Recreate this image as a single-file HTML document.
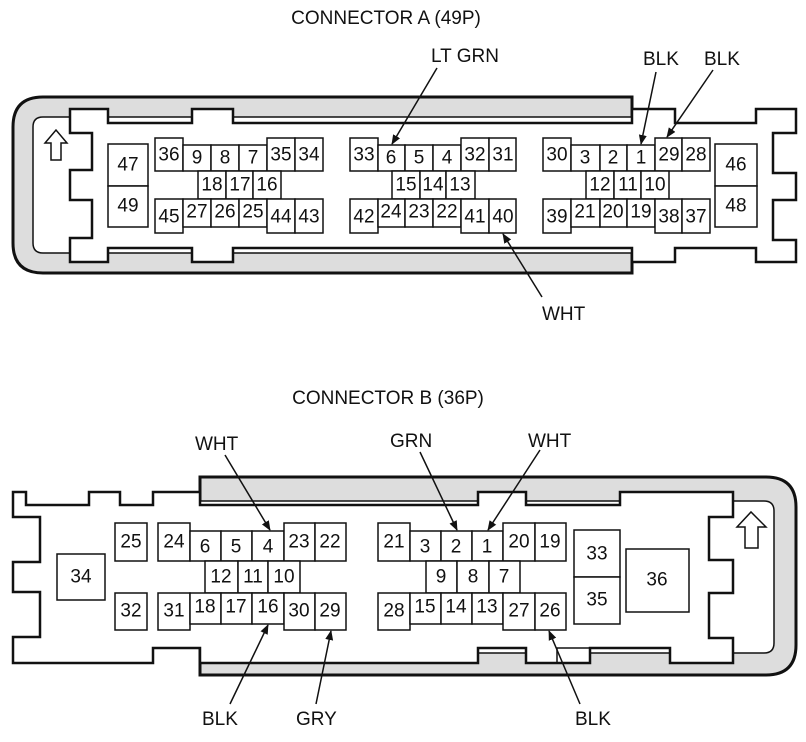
<!DOCTYPE html>
<html><head><meta charset="utf-8"><style>
body{margin:0;background:#fff}
svg{display:block}
text{font-family:"Liberation Sans",sans-serif;fill:#111}
.p text{font-size:19px;text-anchor:middle;dominant-baseline:central}
.p rect{fill:#fff;stroke:#111;stroke-width:1.5}
.l{font-size:19px}
</style></head><body>
<svg width="806" height="742" viewBox="0 0 806 742" xmlns="http://www.w3.org/2000/svg">
<defs><marker id="ah" markerWidth="10" markerHeight="10" refX="9" refY="5" orient="auto" markerUnits="userSpaceOnUse"><path d="M0,1 L10,5 L0,9 z" fill="#111"/></marker></defs>

<!-- CONNECTOR A -->
<text class="l" x="386" y="24" text-anchor="middle">CONNECTOR A (49P)</text>
<path d="M632,97 L43,97 Q13,97 13,127 L13,243 Q13,273 43,273 L632,273 Z" fill="#ddd" stroke="#111" stroke-width="3"/>
<path d="M632,117 L43,117 Q33,117 33,127 L33,243 Q33,253 43,253 L632,253" fill="#fff" stroke="#111" stroke-width="1.5"/>
<path d="M70,109 L108,109 L108,123 L192,123 L192,109 L233,109 L233,123 L632,123 L632,109 L675,109 L675,123 L756,123 L756,109 L796,109 L796,133 L773,133 L773,173 L796,173 L796,200 L773,200 L773,240 L796,240 L796,262 L756,262 L756,248 L675,248 L675,262 L632,262 L632,248 L233,248 L233,262 L192,262 L192,248 L108,248 L108,262 L70,262 L70,238 L92,238 L92,200 L70,200 L70,170 L92,170 L92,133 L70,133 Z" fill="#fff" stroke="#111" stroke-width="2.5"/>
<path d="M51,160 L51,143 L45,143 L56,130 L67,143 L61,143 L61,160 Z" fill="#fff" stroke="#111" stroke-width="1.5"/>
<g class="p">
<rect x="108" y="144" width="40" height="42"/><text x="128" y="165">47</text>
<rect x="108" y="186" width="40" height="41"/><text x="128" y="206">49</text>
<rect x="155" y="138" width="28" height="33"/><text x="169" y="155">36</text>
<rect x="183" y="145" width="28" height="26"/><text x="197" y="158">9</text>
<rect x="211" y="145" width="28" height="26"/><text x="225" y="158">8</text>
<rect x="239" y="145" width="28" height="26"/><text x="253" y="158">7</text>
<rect x="267" y="138" width="28" height="33"/><text x="281" y="155">35</text>
<rect x="295" y="138" width="28" height="33"/><text x="309" y="155">34</text>
<rect x="198" y="171" width="28" height="28"/><text x="212" y="185">18</text>
<rect x="226" y="171" width="27" height="28"/><text x="240" y="185">17</text>
<rect x="253" y="171" width="28" height="28"/><text x="267" y="185">16</text>
<rect x="155" y="199" width="28" height="34"/><text x="169" y="217">45</text>
<rect x="183" y="199" width="28" height="28"/><text x="197" y="212">27</text>
<rect x="211" y="199" width="28" height="28"/><text x="225" y="212">26</text>
<rect x="239" y="199" width="28" height="28"/><text x="253" y="212">25</text>
<rect x="267" y="199" width="28" height="34"/><text x="281" y="217">44</text>
<rect x="295" y="199" width="28" height="34"/><text x="309" y="217">43</text>

<rect x="350" y="138" width="28" height="33"/><text x="364" y="155">33</text>
<rect x="378" y="145" width="27" height="26"/><text x="391" y="158">6</text>
<rect x="405" y="145" width="28" height="26"/><text x="419" y="158">5</text>
<rect x="433" y="145" width="28" height="26"/><text x="447" y="158">4</text>
<rect x="461" y="138" width="28" height="33"/><text x="475" y="155">32</text>
<rect x="489" y="138" width="27" height="33"/><text x="503" y="155">31</text>
<rect x="392" y="171" width="28" height="28"/><text x="406" y="185">15</text>
<rect x="420" y="171" width="26" height="28"/><text x="433" y="185">14</text>
<rect x="446" y="171" width="29" height="28"/><text x="460" y="185">13</text>
<rect x="350" y="199" width="28" height="34"/><text x="364" y="217">42</text>
<rect x="378" y="199" width="27" height="28"/><text x="391" y="212">24</text>
<rect x="405" y="199" width="28" height="28"/><text x="419" y="212">23</text>
<rect x="433" y="199" width="28" height="28"/><text x="447" y="212">22</text>
<rect x="461" y="199" width="28" height="34"/><text x="475" y="217">41</text>
<rect x="489" y="199" width="27" height="34"/><text x="503" y="217">40</text>

<rect x="543" y="138" width="28" height="33"/><text x="557" y="155">30</text>
<rect x="571" y="145" width="29" height="26"/><text x="585" y="158">3</text>
<rect x="600" y="145" width="27" height="26"/><text x="613" y="158">2</text>
<rect x="627" y="145" width="28" height="26"/><text x="641" y="158">1</text>
<rect x="655" y="138" width="27" height="33"/><text x="669" y="155">29</text>
<rect x="682" y="138" width="28" height="33"/><text x="696" y="155">28</text>
<rect x="586" y="171" width="28" height="28"/><text x="600" y="185">12</text>
<rect x="614" y="171" width="27" height="28"/><text x="628" y="185">11</text>
<rect x="641" y="171" width="28" height="28"/><text x="655" y="185">10</text>
<rect x="543" y="199" width="28" height="34"/><text x="557" y="217">39</text>
<rect x="571" y="199" width="29" height="28"/><text x="585" y="212">21</text>
<rect x="600" y="199" width="27" height="28"/><text x="613" y="212">20</text>
<rect x="627" y="199" width="28" height="28"/><text x="641" y="212">19</text>
<rect x="655" y="199" width="27" height="34"/><text x="669" y="217">38</text>
<rect x="682" y="199" width="28" height="34"/><text x="696" y="217">37</text>
<rect x="715" y="144" width="42" height="42"/><text x="736" y="165">46</text>
<rect x="715" y="186" width="42" height="41"/><text x="736" y="206">48</text>
</g>
<text class="l" x="431" y="62">LT GRN</text>
<text class="l" x="643" y="65">BLK</text>
<text class="l" x="704" y="65">BLK</text>
<text class="l" x="542" y="320">WHT</text>
<g stroke="#111" stroke-width="1.5" marker-end="url(#ah)">
<line x1="437" y1="68" x2="392" y2="144"/>
<line x1="656" y1="72" x2="641" y2="144"/>
<line x1="713" y1="70" x2="667" y2="137"/>
<line x1="542" y1="297" x2="503" y2="234"/>
</g>

<!-- CONNECTOR B -->
<text class="l" x="388" y="404" text-anchor="middle">CONNECTOR B (36P)</text>
<path d="M200,477 L766,477 Q796,477 796,507 L796,645 Q796,675 766,675 L200,675 Z" fill="#ddd" stroke="#111" stroke-width="3"/>
<path d="M200,501 L764,501 Q774,501 774,511 L774,643 Q774,653 764,653 L200,653" fill="#fff" stroke="#111" stroke-width="1.5"/>
<path d="M13,492 L26,492 L26,505 L89,505 L89,492 L120,492 L120,505 L153,505 L153,492 L200,492 L200,505 L478,505 L478,492 L526,492 L526,505 L620,505 L620,492 L733,492 L733,517 L709,517 L709,560 L733,560 L733,593 L709,593 L709,638 L733,638 L733,663 L670,663 L670,648 L590,648 L590,663 L526,663 L526,648 L478,648 L478,663 L200,663 L200,648 L153,648 L153,663 L13,663 L13,637 L40,637 L40,592 L13,592 L13,562 L40,562 L40,517 L13,517 Z" fill="#fff" stroke="#111" stroke-width="2.5"/>
<path d="M557,663 L557,648 L590,648" fill="none" stroke="#111" stroke-width="1.5"/>
<path d="M745,548 L745,527 L737,527 L751,512 L766,527 L758,527 L758,548 Z" fill="#fff" stroke="#111" stroke-width="1.5"/>
<g class="p">
<rect x="57" y="554" width="48" height="46"/><text x="81" y="577">34</text>
<rect x="115" y="523" width="32" height="38"/><text x="131" y="542">25</text>
<rect x="115" y="593" width="32" height="37"/><text x="131" y="611">32</text>
<rect x="158" y="523" width="32" height="38"/><text x="174" y="542">24</text>
<rect x="190" y="531" width="31" height="30"/><text x="205" y="547">6</text>
<rect x="221" y="531" width="31" height="30"/><text x="236" y="547">5</text>
<rect x="252" y="531" width="32" height="30"/><text x="268" y="547">4</text>
<rect x="284" y="523" width="31" height="38"/><text x="299" y="542">23</text>
<rect x="315" y="523" width="31" height="38"/><text x="330" y="542">22</text>
<rect x="205" y="561" width="33" height="32"/><text x="221" y="577">12</text>
<rect x="238" y="561" width="30" height="32"/><text x="253" y="577">11</text>
<rect x="268" y="561" width="32" height="32"/><text x="284" y="577">10</text>
<rect x="158" y="593" width="32" height="37"/><text x="174" y="611">31</text>
<rect x="190" y="593" width="31" height="31"/><text x="205" y="607">18</text>
<rect x="221" y="593" width="31" height="31"/><text x="236" y="607">17</text>
<rect x="252" y="593" width="32" height="31"/><text x="268" y="607">16</text>
<rect x="284" y="593" width="31" height="37"/><text x="299" y="611">30</text>
<rect x="315" y="593" width="31" height="37"/><text x="330" y="611">29</text>

<rect x="378" y="523" width="32" height="38"/><text x="394" y="542">21</text>
<rect x="410" y="531" width="31" height="30"/><text x="425" y="547">3</text>
<rect x="441" y="531" width="31" height="30"/><text x="456" y="547">2</text>
<rect x="472" y="531" width="31" height="30"/><text x="487" y="547">1</text>
<rect x="503" y="523" width="32" height="38"/><text x="519" y="542">20</text>
<rect x="535" y="523" width="31" height="38"/><text x="550" y="542">19</text>
<rect x="426" y="561" width="31" height="32"/><text x="441" y="577">9</text>
<rect x="457" y="561" width="32" height="32"/><text x="473" y="577">8</text>
<rect x="489" y="561" width="31" height="32"/><text x="504" y="577">7</text>
<rect x="378" y="593" width="32" height="37"/><text x="394" y="611">28</text>
<rect x="410" y="593" width="31" height="31"/><text x="425" y="607">15</text>
<rect x="441" y="593" width="31" height="31"/><text x="456" y="607">14</text>
<rect x="472" y="593" width="31" height="31"/><text x="487" y="607">13</text>
<rect x="503" y="593" width="32" height="37"/><text x="519" y="611">27</text>
<rect x="535" y="593" width="31" height="37"/><text x="550" y="611">26</text>
<rect x="574" y="530" width="46" height="47"/><text x="597" y="554">33</text>
<rect x="574" y="577" width="46" height="47"/><text x="597" y="600">35</text>
<rect x="626" y="549" width="63" height="63"/><text x="657" y="580">36</text>
</g>
<text class="l" x="195" y="450">WHT</text>
<text class="l" x="390" y="447">GRN</text>
<text class="l" x="528" y="447">WHT</text>
<text class="l" x="202" y="725">BLK</text>
<text class="l" x="296" y="725">GRY</text>
<text class="l" x="575" y="725">BLK</text>
<g stroke="#111" stroke-width="1.5" marker-end="url(#ah)">
<line x1="225" y1="455" x2="270" y2="530"/>
<line x1="420" y1="452" x2="457" y2="530"/>
<line x1="540" y1="450" x2="488" y2="530"/>
<line x1="230" y1="704" x2="268" y2="625"/>
<line x1="316" y1="704" x2="331" y2="631"/>
<line x1="580" y1="704" x2="549" y2="631"/>
</g>
</svg>
</body></html>
